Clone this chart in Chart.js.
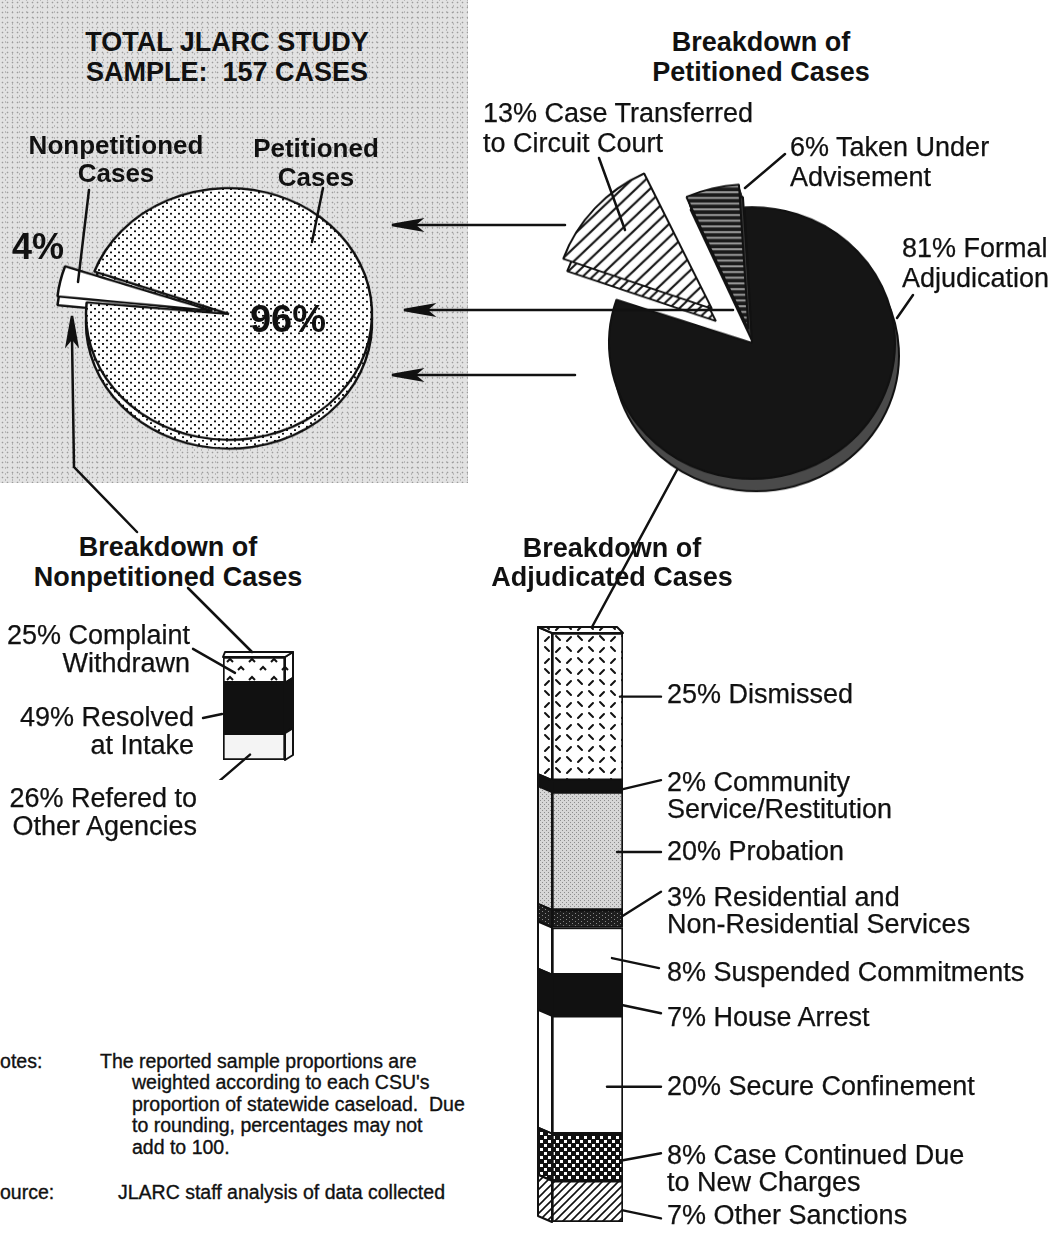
<!DOCTYPE html>
<html>
<head>
<meta charset="utf-8">
<title>JLARC study sample: 157 cases</title>
<script src="https://cdn.jsdelivr.net/npm/chart.js@4.4.1/dist/chart.umd.min.js"></script>
<style>
  html, body { margin: 0; padding: 0; background: #fff; }
  body { position: relative; width: 1055px; height: 1234px; overflow: hidden;
         font-family: "Liberation Sans", Arial, Helvetica, sans-serif; color: #111; }
  #panel { position: absolute; left: 0; top: 0; width: 468px; height: 483px;
           background-color: #e2e2e2;
           background-image: radial-gradient(circle, #9c9c9c 0.7px, transparent 1.1px),
                             radial-gradient(circle, #b8b8b8 0.6px, transparent 1px);
           background-size: 5px 5px, 7px 6px; background-position: 0 0, 2px 3px; }
  canvas { position: absolute; }
  .t { position: absolute; white-space: pre; font-size: 27px; line-height: 28px; -webkit-text-stroke: 0.25px #111; }
  .b { font-weight: bold; -webkit-text-stroke: 0; }
  .note { font-size: 19.5px; -webkit-text-stroke: 0.35px #111; }
  #lines { position: absolute; left: 0; top: 0; }
</style>
</head>
<body>
<div id="panel"></div>
<canvas id="totalPie" width="440" height="440" style="left:9px;top:94px;transform:scaleY(0.88)"></canvas>
<canvas id="petPie" width="440" height="440" style="left:532px;top:123px;transform:scaleY(0.95)"></canvas>
<canvas id="nonpetBar" width="130" height="180" style="left:180px;top:600px"></canvas>
<canvas id="adjBar" width="200" height="634" style="left:520px;top:600px"></canvas>

<svg id="lines" width="1055" height="1234" fill="none" stroke="#111" stroke-width="2.5" stroke-linecap="round">
  <!-- arrows from the petitioned breakdown back to the total pie -->
  <path d="M565 225 H412"/>
  <path d="M733 310 H424"/>
  <path d="M575 375 H412"/>
  <path d="M392 225 L420 220 L414 225 L420 230 Z" fill="#111"/>
  <path d="M404 310 L432 305 L426 310 L432 315 Z" fill="#111"/>
  <path d="M392 375 L420 370 L414 375 L420 380 Z" fill="#111"/>
  <!-- total pie leaders -->
  <path d="M89 190 L78 282"/>
  <path d="M323 188 L312 242"/>
  <!-- nonpetitioned breakdown back to the 4% slice -->
  <path d="M137 532 L74 467 L72 338"/>
  <path d="M72 316 L67 344 L72 338 L77 344 Z" fill="#111"/>
  <path d="M188 588 L252 652"/>
  <!-- formal adjudication down to the adjudicated bar -->
  <path d="M677 470 L592 627"/>
  <!-- petitioned pie leaders -->
  <path d="M599 158 L625 230"/>
  <path d="M785 154 L745 188"/>
  <path d="M913 295 L897 318"/>
</svg>

<script>
// ---------- data ----------
const totalLabels = [['Nonpetitioned', 'Cases'], ['Petitioned', 'Cases']];
const totalValues = [4, 96];

const petLabels = [['Formal', 'Adjudication'], ['Case Transferred', 'to Circuit Court'], ['Taken Under', 'Advisement']];
const petValues = [81, 13, 6];

const nonpetLabels = [['Complaint', 'Withdrawn'], ['Resolved', 'at Intake'], ['Refered to', 'Other Agencies']];
const nonpetValues = [25, 49, 26];

const adjLabels = [
    ['Dismissed'],
    ['Community', 'Service/Restitution'],
    ['Probation'],
    ['Residential and', 'Non-Residential Services'],
    ['Suspended Commitments'],
    ['House Arrest'],
    ['Secure Confinement'],
    ['Case Continued Due', 'to New Charges'],
    ['Other Sanctions']
];
const adjValues = [25, 2, 20, 3, 8, 7, 20, 8, 7];

// ---------- label layout (pixels, relative to each segment) ----------
const adjLayout = {
    edge: 'right',
    sx: [-3, 0, -6, 0, -11, 0, -16, 0, 0],
    sy: [-10, 3, 1, -3, 7, 10, 12, 3, 9],
    ex: [38, 38, 38, 38, 36, 38, 38, 38, 38],
    ey: [-10, -6, 1, -27, 17, 18, 12, -4, 17],
    tx: [44, 44, 44, 44, 44, 44, 44, 44, 44],
    ty: [-12, -4, 1, -21, 21, 22, 12, -2, 14]
};
const nonpetLayout = {
    edge: 'left',
    sx: [12, -1, 27],
    sy: [3, 6, 8],
    ex: [-30, -20, -16],
    ey: [-21, 10, 45],
    tx: [-33, -29, -26],
    ty: [-35, 9, 51]
};

// ---------- fill patterns ----------
function pattern(w, h, paint) {
    var c = document.createElement('canvas');
    c.width = w; c.height = h;
    var g = c.getContext('2d');
    paint(g, w, h);
    return g.createPattern(c, 'repeat');
}

function hatch(step, lw, bg) {
    return pattern(step, step, function(g, w, h) {
        g.fillStyle = bg; g.fillRect(0, 0, w, h);
        g.strokeStyle = '#111'; g.lineWidth = lw;
        g.beginPath();
        g.moveTo(-1, h + 1); g.lineTo(w + 1, -1);
        g.moveTo(-2, 2); g.lineTo(2, -2);
        g.moveTo(w - 2, h + 2); g.lineTo(w + 2, h - 2);
        g.stroke();
    });
}

var stipple = pattern(8, 8, function(g, w, h) {
    g.fillStyle = '#fff'; g.fillRect(0, 0, w, h);
    g.fillStyle = '#111';
    g.fillRect(1, 1, 2, 2); g.fillRect(5, 5, 2, 2);
});
var hlines = pattern(4, 6, function(g, w, h) {
    g.fillStyle = '#1a1a1a'; g.fillRect(0, 0, w, h);
    g.fillStyle = '#d0d0d0'; g.fillRect(0, 3, w, 1.5);
});
var dashes = pattern(22, 22, function(g, w, h) {
    g.fillStyle = '#fff'; g.fillRect(0, 0, w, h);
    g.strokeStyle = '#111'; g.lineWidth = 2; g.lineCap = 'round';
    g.beginPath();
    g.moveTo(3, 3); g.lineTo(7, 7);
    g.moveTo(14, 8); g.lineTo(18, 4);
    g.moveTo(3, 19); g.lineTo(7, 15);
    g.moveTo(14, 14); g.lineTo(18, 18);
    g.stroke();
});
var grayDots = pattern(4, 4, function(g, w, h) {
    g.fillStyle = '#d6d6d6'; g.fillRect(0, 0, w, h);
    g.fillStyle = '#8c8c8c'; g.fillRect(0, 0, 1, 1); g.fillRect(2, 2, 1, 1);
});
var darkSpeck = pattern(6, 4, function(g, w, h) {
    g.fillStyle = '#1e1e1e'; g.fillRect(0, 0, w, h);
    g.fillStyle = '#888'; g.fillRect(1, 1, 1, 1); g.fillRect(4, 3, 1, 1);
});
var checker = pattern(8, 8, function(g, w, h) {
    g.fillStyle = '#111'; g.fillRect(0, 0, w, h);
    g.fillStyle = '#fff'; g.fillRect(0, 0, 3, 3); g.fillRect(4, 4, 3, 3);
});
var carets = pattern(22, 18, function(g, w, h) {
    g.fillStyle = '#fff'; g.fillRect(0, 0, w, h);
    g.strokeStyle = '#111'; g.lineWidth = 2;
    g.beginPath();
    g.moveTo(3, 8); g.lineTo(6, 5); g.lineTo(9, 8);
    g.moveTo(14, 16); g.lineTo(17, 13); g.lineTo(20, 16);
    g.stroke();
});

// ---------- plugins ----------
// extruded pie: repeats each slice downwards before the top faces are drawn
const depth3d = {
    id: 'depth3d',
    beforeDatasetsDraw(chart, args, opts) {
        var ctx = chart.ctx;
        chart.getDatasetMeta(0).data.forEach(function(arc, i) {
            var side = Object.create(arc);
            side.options = Object.assign({}, arc.options, { backgroundColor: opts.side[i], borderWidth: 0 });
            for (var d = 1; d < opts.depth; d++) {
                ctx.save(); ctx.translate(opts.dx * d / opts.depth, d); side.draw(ctx); ctx.restore();
            }
            var base = Object.create(arc);
            base.options = Object.assign({}, arc.options, { backgroundColor: opts.base[i] });
            ctx.save(); ctx.translate(opts.dx, opts.depth); base.draw(ctx); ctx.restore();
        });
    }
};

function segments(chart) {
    return chart.data.datasets.map(function(ds, i) {
        var el = chart.getDatasetMeta(i).data[0];
        var top = Math.min(el.y, el.base), bottom = Math.max(el.y, el.base);
        return { left: el.x - el.width / 2, right: el.x + el.width / 2, top: top, bottom: bottom, mid: (top + bottom) / 2 };
    });
}

// side and top faces of the stacked column
const bar3d = {
    id: 'bar3d',
    afterDatasetsDraw(chart, args, o) {
        var ctx = chart.ctx;
        var segs = segments(chart);
        var fills = chart.data.datasets.map(function(d) { return d.backgroundColor; });
        var w = o.side === 'left' ? -o.w : o.w;
        ctx.save();
        ctx.strokeStyle = '#111'; ctx.lineWidth = 2; ctx.lineJoin = 'round';
        segs.forEach(function(s, i) {
            var x0 = o.side === 'left' ? s.left : s.right;
            ctx.beginPath();
            ctx.moveTo(x0, s.top); ctx.lineTo(x0 + w, s.top - o.h);
            ctx.lineTo(x0 + w, s.bottom - o.h); ctx.lineTo(x0, s.bottom);
            ctx.closePath();
            ctx.fillStyle = fills[i]; ctx.fill(); ctx.stroke();
        });
        var s = segs[0];
        ctx.beginPath();
        if (o.side === 'left') {
            ctx.moveTo(s.left, s.top); ctx.lineTo(s.left - o.w, s.top - o.h);
            ctx.lineTo(s.right - o.h, s.top - o.h); ctx.lineTo(s.right, s.top);
        } else {
            ctx.moveTo(s.left, s.top); ctx.lineTo(s.left + 2, s.top - o.h);
            ctx.lineTo(s.right + o.w, s.top - o.h); ctx.lineTo(s.right, s.top);
        }
        ctx.closePath();
        ctx.fillStyle = fills[0]; ctx.fill(); ctx.stroke();
        ctx.restore();
    }
};

// leader lines from each segment to its label
const leaders = {
    id: 'leaders',
    afterDraw(chart, args, o) {
        var ctx = chart.ctx;
        ctx.save();
        ctx.strokeStyle = '#111'; ctx.lineWidth = 2.4; ctx.lineCap = 'round';
        segments(chart).forEach(function(s, i) {
            var x = o.edge === 'right' ? s.right : s.left;
            ctx.beginPath();
            ctx.moveTo(x + o.sx[i], s.mid + o.sy[i]);
            ctx.lineTo(x + o.ex[i], s.mid + o.ey[i]);
            ctx.stroke();
        });
        ctx.restore();
    }
};

// ---------- text helper ----------
function addText(lines, x, y, opt) {
    opt = opt || {};
    var d = document.createElement('div');
    d.className = 't' + (opt.bold ? ' b' : '') + (opt.cls ? ' ' + opt.cls : '');
    var lh = opt.lh || 28;
    if (opt.size) d.style.fontSize = opt.size + 'px';
    d.style.lineHeight = lh + 'px';
    d.style.top = (y - lh / 2) + 'px';
    if (opt.align === 'center') {
        d.style.left = x + 'px'; d.style.transform = 'translateX(-50%)'; d.style.textAlign = 'center';
    } else if (opt.align === 'right') {
        d.style.right = (1055 - x) + 'px'; d.style.textAlign = 'right';
    } else {
        d.style.left = x + 'px';
    }
    d.textContent = lines.join('\n');
    document.body.insertBefore(d, document.getElementById('lines'));
}

// ---------- charts ----------
var noInteraction = { legend: { display: false }, tooltip: { enabled: false } };

var totalChart = new Chart(document.getElementById('totalPie'), {
    type: 'pie',
    data: {
        labels: totalLabels.map(function(l) { return l.join(' '); }),
        datasets: [{
            data: totalValues,
            backgroundColor: ['#ffffff', stipple],
            borderColor: '#111',
            borderWidth: 2.5,
            offset: [68, 0],
            rotation: 275.3,
            radius: 143
        }]
    },
    options: {
        responsive: false, animation: false, events: [],
        plugins: Object.assign({ depth3d: { depth: 10, dx: 0, side: ['#fff', '#fff'], base: ['#fff', stipple] } }, noInteraction)
    },
    plugins: [depth3d]
});

var petChart = new Chart(document.getElementById('petPie'), {
    type: 'pie',
    data: {
        labels: petLabels.map(function(l) { return l.join(' '); }),
        datasets: [{
            data: petValues,
            backgroundColor: ['#151515', hatch(14, 2.2, '#fff'), hlines],
            borderColor: '#111',
            borderWidth: 2,
            offset: [0, 216, 60],
            rotation: -3,
            radius: 143
        }]
    },
    options: {
        responsive: false, animation: false, events: [],
        plugins: Object.assign({ depth3d: { depth: 13, dx: 4, side: ['#262626', '#fff', '#222'], base: ['#4a4a4a', hatch(10, 2, '#fff'), '#333'] } }, noInteraction)
    },
    plugins: [depth3d]
});

function stackedColumn(id, values, fills, pad, faces, layout) {
    return new Chart(document.getElementById(id), {
        type: 'bar',
        data: {
            labels: [''],
            datasets: values.map(function(v, i) {
                return {
                    data: [v],
                    backgroundColor: fills[i],
                    borderColor: '#111',
                    borderWidth: 2,
                    borderSkipped: false,
                    barPercentage: 1,
                    categoryPercentage: 1
                };
            })
        },
        options: {
            responsive: false, animation: false, events: [],
            layout: { padding: pad },
            scales: {
                x: { stacked: true, display: false },
                y: { stacked: true, display: false, reverse: true, min: 0, max: 100 }
            },
            plugins: Object.assign({ bar3d: faces, leaders: layout }, noInteraction)
        },
        plugins: [bar3d, leaders]
    });
}

var nonpetChart = stackedColumn('nonpetBar', nonpetValues,
    [carets, '#111', '#f4f4f4'],
    { left: 43, right: 25, top: 57, bottom: 20 },
    { side: 'right', w: 8, h: 5 }, nonpetLayout);

var adjChart = stackedColumn('adjBar', adjValues,
    [dashes, '#111', grayDots, darkSpeck, '#fff', '#111', '#fff', checker, hatch(8, 1.6, '#fff')],
    { left: 32, right: 97, top: 33, bottom: 12 },
    { side: 'left', w: 14, h: 6 }, adjLayout);

// ---------- labels ----------
function placeBarLabels(chart, canvasId, values, names, lay, align, lh) {
    var cv = document.getElementById(canvasId);
    var ox = cv.offsetLeft, oy = cv.offsetTop;
    segments(chart).forEach(function(s, i) {
        var x = lay.edge === 'right' ? s.right : s.left;
        var lines = [values[i] + '% ' + names[i][0]].concat(names[i].slice(1));
        addText(lines, ox + x + lay.tx[i], oy + s.mid + lay.ty[i], { align: align, lh: lh });
    });
}
placeBarLabels(adjChart, 'adjBar', adjValues, adjLabels, adjLayout, 'left', 27);
placeBarLabels(nonpetChart, 'nonpetBar', nonpetValues, nonpetLabels, nonpetLayout, 'right', 28);

// titles
addText(['TOTAL JLARC STUDY', 'SAMPLE:  157 CASES'], 227, 42, { bold: true, align: 'center', lh: 30 });
addText(['Breakdown of', 'Petitioned Cases'], 761, 42, { bold: true, align: 'center', lh: 30 });
addText(['Breakdown of', 'Nonpetitioned Cases'], 168, 547, { bold: true, align: 'center', lh: 30 });
addText(['Breakdown of', 'Adjudicated Cases'], 612, 548, { bold: true, align: 'center', lh: 29 });

// total pie labels
addText(totalLabels[0], 116, 145, { bold: true, align: 'center', size: 26, lh: 28 });
addText(totalLabels[1], 316, 148, { bold: true, align: 'center', size: 26, lh: 29 });
addText([totalValues[0] + '%'], 12, 247, { bold: true, size: 36, lh: 40 });
addText([totalValues[1] + '%'], 288, 319, { bold: true, align: 'center', size: 38, lh: 42 });

// petitioned pie labels
var petLabelPos = [[902, 248], [483, 113], [790, 147]];
petLabels.forEach(function(l, i) {
    addText([petValues[i] + '% ' + l[0]].concat(l.slice(1)), petLabelPos[i][0], petLabelPos[i][1], { lh: 30 });
});

// notes
addText(['Notes:'], -14, 1062, { cls: 'note', lh: 21.5 });
addText(['The reported sample proportions are'], 100, 1062, { cls: 'note', lh: 21.5 });
addText(['weighted according to each CSU\'s', 'proportion of statewide caseload.  Due', 'to rounding, percentages may not', 'add to 100.'], 132, 1083, { cls: 'note', lh: 21.6 });
addText(['Source:'], -13, 1193, { cls: 'note', lh: 21.5 });
addText(['JLARC staff analysis of data collected'], 118, 1193, { cls: 'note', lh: 21.5 });
</script>
</body>
</html>
